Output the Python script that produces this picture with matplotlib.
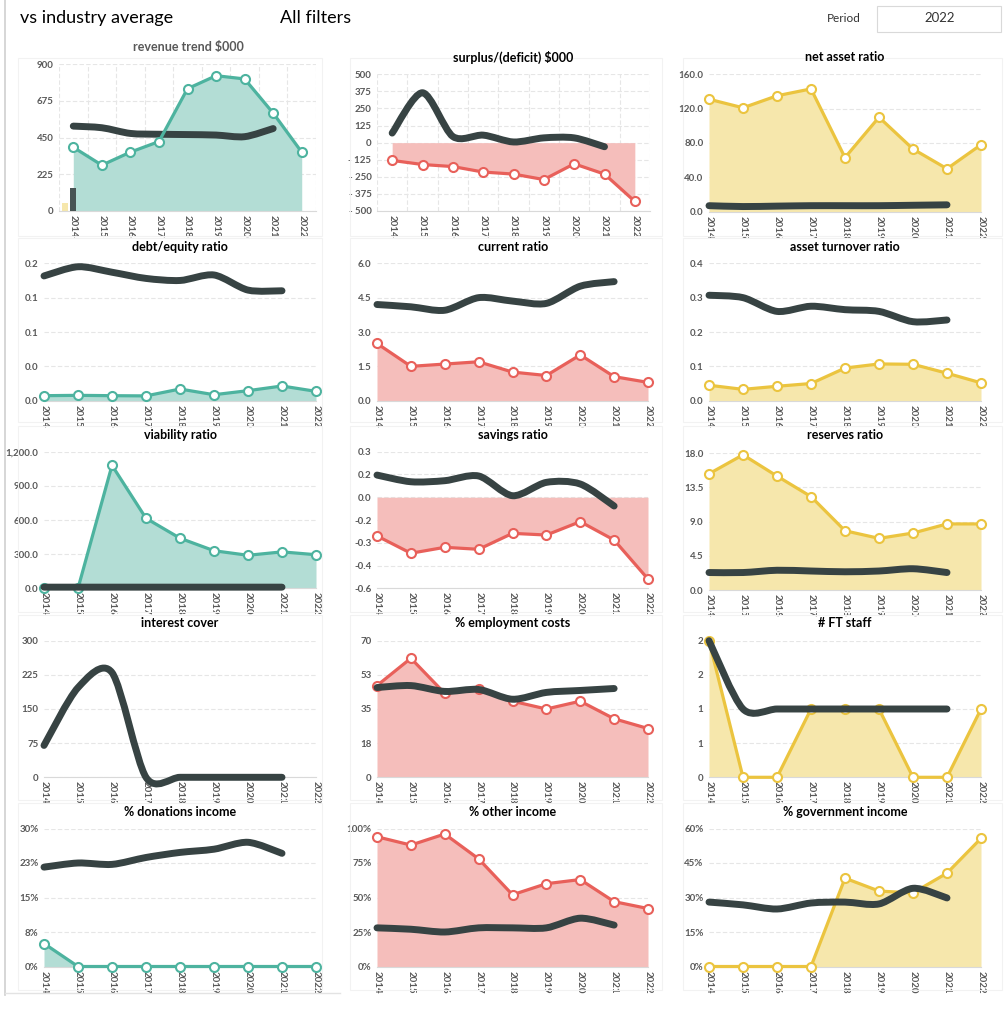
import numpy as np
import matplotlib.pyplot as plt
from matplotlib.path import Path
from matplotlib.patches import PathPatch, Rectangle

plt.rcParams['font.family'] = ['Lato', 'DejaVu Sans']

years = ['2014', '2015', '2016', '2017', '2018', '2019', '2020', '2021', '2022']

# company series (coloured) and industry average (dark, 2014-2021)
revenue = [390, 280, 360, 425, 750, 830, 810, 600, 360]
revenue_ind = [520, 510, 475, 470, 468, 465, 455, 505]
revenue_bar_yellow = 50
revenue_bar_dark = 141

surplus = [-130, -160, -175, -215, -230, -270, -155, -230, -430]
surplus_ind = [70, 365, 45, 55, 5, 35, 35, -30]

net_asset = [131, 121, 135, 143, 63, 110, 73, 50, 78]
net_asset_ind = [7, 6, 6.5, 7, 7, 7, 7.5, 8]

debt_equity = [0.0073, 0.0078, 0.0073, 0.007, 0.017, 0.0087, 0.0146, 0.0214, 0.0136]
debt_equity_ind = [0.1816, 0.195, 0.187, 0.178, 0.175, 0.183, 0.161, 0.160]

current = [2.5, 1.5, 1.6, 1.7, 1.25, 1.1, 2.0, 1.05, 0.8]
current_ind = [4.2, 4.1, 3.95, 4.5, 4.35, 4.25, 5.0, 5.2]

asset_turn = [0.045, 0.033, 0.042, 0.05, 0.095, 0.107, 0.106, 0.08, 0.052]
asset_turn_ind = [0.307, 0.30, 0.26, 0.275, 0.265, 0.26, 0.23, 0.235]

viability = [0, 0, 1080, 615, 440, 330, 290, 320, 295]
viability_ind = [10, 10, 10, 10, 10, 10, 10, 10]

savings = [-0.255, -0.369, -0.33, -0.343, -0.238, -0.249, -0.161, -0.282, -0.539]
savings_ind = [0.146, 0.102, 0.109, 0.14, 0.01, 0.098, 0.087, -0.058]

reserves = [15.3, 17.8, 15.0, 12.3, 7.8, 6.8, 7.5, 8.7, 8.7]
reserves_ind = [2.3, 2.3, 2.6, 2.5, 2.4, 2.5, 2.8, 2.3]

interest_ind = [70, 197, 230, 0, 0, 0, 0, 0]

employment = [47, 61, 43, 45, 39, 35, 39, 30, 25]
employment_ind = [46, 47, 44, 45, 40, 43.5, 44.5, 45.5]

ft_staff = [2, 0, 0, 1, 1, 1, 0, 0, 1]
ft_staff_ind = [2, 1, 1, 1, 1, 1, 1, 1]

donations = [5, 0, 0, 0, 0, 0, 0, 0, 0]
donations_ind = [21.6, 22.5, 22.2, 23.7, 24.8, 25.5, 27, 24.6]

other_inc = [94, 88, 96, 78, 52, 60, 63, 47, 42]
other_inc_ind = [28, 27, 25, 28, 28, 28, 35, 30]

gov_inc = [0, 0, 0, 0, 38.4, 32.8, 32, 40.6, 55.7]
gov_inc_ind = [28, 26.8, 25, 27.6, 28, 27.2, 34, 29.8]

TEAL, TEAL_F = '#4DB39F', '#B3DDD5'
RED, RED_F = '#E8605A', '#F5BEBB'
YEL, YEL_F = '#EBC43F', '#F6E7AC'
DARK = '#374343'
GREY = '#595959'

W, H = 1006, 1024
fig = plt.figure(figsize=(W / 100, H / 100), dpi=100)


def px_axes(x0, y0, x1, y1):
    return fig.add_axes([x0 / W, 1 - y1 / H, (x1 - x0) / W, (y1 - y0) / H])


def smooth(x, y, k=7.0):
    # Excel-like smoothed line: cubic bezier through every point
    pts = np.column_stack([x, y]).astype(float)
    n = len(pts)
    verts, codes = [pts[0]], [Path.MOVETO]
    for i in range(n - 1):
        p0 = pts[i - 1] if i > 0 else pts[i]
        p1, p2 = pts[i], pts[i + 1]
        p3 = pts[i + 2] if i + 2 < n else pts[i + 1]
        verts += [p1 + (p2 - p0) / k, p2 - (p3 - p1) / k, p2]
        codes += [Path.CURVE4] * 3
    return Path(verts, codes)


def panel(rect, title, tpos, vals, ind, color, fcolor, yticks, ylabels,
          between=False, title_color='black'):
    ax = px_axes(*rect)
    n = len(years)
    x = np.arange(n)
    if between:
        ax.set_xlim(-0.5, n - 0.5)
        ax.set_xticks(np.arange(n + 1) - 0.5, minor=True)
    else:
        ax.set_xlim(0, n - 1)
        ax.set_xticks(x, minor=True)
    ax.set_ylim(yticks[0], yticks[-1])
    ax.set_yticks(yticks)
    ax.set_yticklabels(ylabels)
    ax.set_xticks(x)
    ax.set_xticklabels(years, rotation=270)
    ax.grid(True, which='minor', axis='x', color='#E6E6E6', ls=(0, (4, 2)), lw=0.8)
    ax.grid(True, which='major', axis='y', color='#E6E6E6', ls=(0, (4, 2)), lw=0.8)
    ax.set_axisbelow(True)
    ax.tick_params(which='both', length=0)
    ax.tick_params(axis='y', pad=4)
    ax.tick_params(axis='x', pad=3)
    for lab in ax.get_xticklabels() + ax.get_yticklabels():
        lab.set_fontsize(7)
        lab.set_fontweight('bold')
        lab.set_color(GREY)
    for s in ['top', 'right', 'left']:
        ax.spines[s].set_visible(False)
    ax.spines['bottom'].set_color('#D9D9D9')
    ax.set_facecolor('none')
    if vals is not None:
        ax.fill_between(x, 0, vals, color=fcolor, lw=0, clip_on=False)
        ax.plot(x, vals, color=color, lw=2.3, marker='o', ms=6.5, mfc='white',
                mec=color, mew=1.5, clip_on=False, zorder=3)
    if ind is not None:
        xi = np.arange(len(ind))
        ax.add_patch(PathPatch(smooth(xi, ind), fill=False, ec=DARK, lw=5,
                               capstyle='round', joinstyle='round',
                               clip_on=False, zorder=4))
    fig.text(tpos[0] / W, 1 - tpos[1] / H, title, ha='center', va='center',
             fontsize=9, fontweight='bold', color=title_color)
    return ax


# header
fig.text(20 / W, 1 - 18 / H, 'vs industry average', fontsize=13, va='center')
fig.text(280 / W, 1 - 18 / H, 'All filters', fontsize=13, va='center')
fig.text(827 / W, 1 - 18 / H, 'Period', fontsize=8.5, va='center', color='#333333')
fig.patches.append(Rectangle((877 / W, 1 - 32 / H), 124 / W, 26 / H,
                             transform=fig.transFigure, fill=False,
                             ec='#D9D9D9', lw=0.8))
fig.text(940 / W, 1 - 18 / H, '2022', fontsize=9.5, va='center', ha='center',
         color='#333333')

# faint outer frame
fig.add_artist(plt.Line2D([5 / W, 5 / W], [1 - 995 / H, 1], transform=fig.transFigure,
                          color='#CFCFCF', lw=1.2))
fig.add_artist(plt.Line2D([5 / W, 340 / W], [1 - 993 / H, 1 - 993 / H],
                          transform=fig.transFigure, color='#E3E3E3', lw=1))

# faint panel frames
col_box = [(18, 322), (350, 662), (683, 1002)]
row_box = [(58, 236), (238, 422), (426, 612), (615, 800), (803, 990)]
for (bx0, bx1) in col_box:
    for (by0, by1) in row_box:
        fig.patches.append(Rectangle((bx0 / W, 1 - by1 / H), (bx1 - bx0) / W,
                                     (by1 - by0) / H, transform=fig.transFigure,
                                     fill=False, ec='#F2F2F2', lw=0.8))

C1, C2, C3 = (44, 316), (377, 648), (709, 981)

# row 1
ax = panel((59, 64.3, 316, 210.7), 'revenue trend $000', (188, 47), revenue, revenue_ind,
           TEAL, TEAL_F, [0, 225, 450, 675, 900], ['0', '225', '450', '675', '900'],
           between=True, title_color=GREY)
ax.bar(-0.29, revenue_bar_yellow, width=0.22, color=YEL_F, zorder=2)
ax.bar(0, revenue_bar_dark, width=0.22, color='#485454', zorder=5)
ax.lines[0].set_zorder(6)
panel((377, 74.3, 650, 211), 'surplus/(deficit) $000', (513, 57), surplus, surplus_ind,
      RED, RED_F, [-500, -375, -250, -125, 0, 125, 250, 375, 500],
      ['- 500', '- 375', '- 250', '- 125', '0', '125', '250', '375', '500'], between=True)
panel((C3[0], 74.3, C3[1], 211.7), 'net asset ratio', (845, 57), net_asset, net_asset_ind,
      YEL, YEL_F, [0, 40, 80, 120, 160], ['0.0', '40.0', '80.0', '120.0', '160.0'])

# row 2
panel((C1[0], 263.3, C1[1], 400.7), 'debt/equity ratio', (180, 247), debt_equity,
      debt_equity_ind, TEAL, TEAL_F, [0, 0.05, 0.1, 0.15, 0.2],
      ['0.0', '0.0', '0.1', '0.1', '0.2'])
panel((C2[0], 263.3, C2[1], 400.7), 'current ratio', (513, 247), current, current_ind,
      RED, RED_F, [0, 1.5, 3, 4.5, 6], ['0.0', '1.5', '3.0', '4.5', '6.0'])
panel((C3[0], 263.3, C3[1], 400.7), 'asset turnover ratio', (845, 247), asset_turn,
      asset_turn_ind, YEL, YEL_F, [0, 0.1, 0.2, 0.3, 0.4],
      ['0.0', '0.1', '0.2', '0.3', '0.4'])

# row 3
panel((C1[0], 451.7, C1[1], 588.3), 'viability ratio', (180, 435), viability,
      viability_ind, TEAL, TEAL_F, [0, 300, 600, 900, 1200],
      ['0.0', '300.0', '600.0', '900.0', '1,200.0'])
panel((C2[0], 451.7, C2[1], 588.3), 'savings ratio', (513, 435), savings, savings_ind,
      RED, RED_F, [-0.6, -0.45, -0.3, -0.15, 0, 0.15, 0.3],
      ['-0.6', '-0.4', '-0.3', '-0.2', '0.0', '0.2', '0.3'])
panel((C3[0], 453.3, C3[1], 590), 'reserves ratio', (845, 435), reserves, reserves_ind,
      YEL, YEL_F, [0, 4.5, 9, 13.5, 18], ['0.0', '4.5', '9.0', '13.5', '18.0'])

# row 4
panel((C1[0], 640.7, C1[1], 777.3), 'interest cover', (180, 623), None, interest_ind,
      TEAL, TEAL_F, [0, 75, 150, 225, 300], ['0', '75', '150', '225', '300'])
panel((C2[0], 640.7, C2[1], 777.3), '% employment costs', (513, 623), employment,
      employment_ind, RED, RED_F, [0, 17.5, 35, 52.5, 70], ['0', '18', '35', '53', '70'])
panel((C3[0], 640.7, C3[1], 777.3), '# FT staff', (845, 623), ft_staff, ft_staff_ind,
      YEL, YEL_F, [0, 0.5, 1, 1.5, 2], ['0', '1', '1', '2', '2'])

# row 5
panel((C1[0], 828.5, C1[1], 966.5), '% donations income', (180, 812), donations,
      donations_ind, TEAL, TEAL_F, [0, 7.5, 15, 22.5, 30], ['0%', '8%', '15%', '23%', '30%'])
panel((C2[0], 828.5, C2[1], 966.5), '% other income', (513, 812), other_inc,
      other_inc_ind, RED, RED_F, [0, 25, 50, 75, 100], ['0%', '25%', '50%', '75%', '100%'])
panel((C3[0], 828.5, C3[1], 966.5), '% government income', (845, 812), gov_inc,
      gov_inc_ind, YEL, YEL_F, [0, 15, 30, 45, 60], ['0%', '15%', '30%', '45%', '60%'])

fig.savefig('out.png', dpi=100)
